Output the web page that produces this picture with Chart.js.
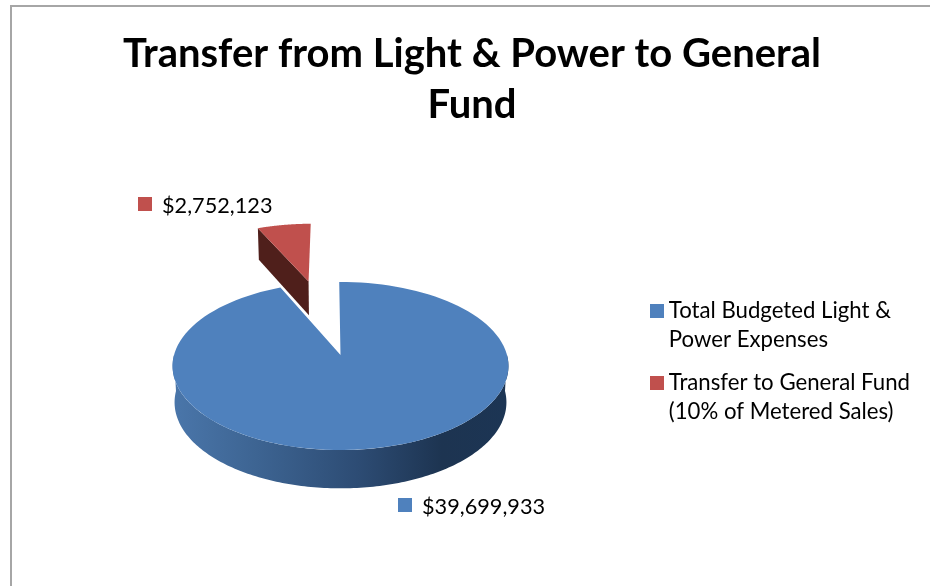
<!DOCTYPE html>
<html>
<head>
<meta charset="utf-8">
<title>Transfer from Light & Power to General Fund</title>
<script src="https://cdn.jsdelivr.net/npm/chart.js@4/dist/chart.umd.min.js"></script>
<style>
    html, body { margin: 0; padding: 0; background: #fff; overflow: hidden; }
    #wrap { position: relative; width: 930px; height: 586px; overflow: hidden; }
    #frame { position: absolute; left: 10px; top: 5px; width: 1000px; height: 800px; border: 2px solid #a6a6a6; }
    canvas { position: absolute; left: 0; top: 0; }
</style>
</head>
<body>
<div id="wrap">
    <div id="frame"></div>
    <canvas id="pie" width="930" height="586"></canvas>
</div>
<script>
const titleLines = ['Transfer from Light & Power to General', 'Fund'];
const categories = [['Total Budgeted Light &', 'Power Expenses'], ['Transfer to General Fund', '(10% of Metered Sales)']];
const seriesValues = [39699933, 2752123];
const sliceColors = ['#4f81bd', '#c0504d'];
const explode = [0, 103];

const FONT = 'Lato, Carlito, sans-serif';
const PIE_RADIUS = 100;
const KEY_SIZE = 14;

// camera for the tilted pie: unit disc to screen, with perspective
const cam = { cx: 340.5, cy: 355, a: 166.5, b: 82.6, p: 0.131 };

function project(u, v, z) {
    const w = 1 + cam.p * v;
    const drop = z ? 36 - 2.3 * v : 0;
    const k = z ? 0.988 : 1;
    return [cam.cx + k * cam.a * u / w, cam.cy - cam.b * v / w + drop];
}

function rimPoint(arc, angle, ox, oy, z) {
    return project(ox + Math.cos(angle), oy - Math.sin(angle), z);
}

function tracePoly(ctx, pts) {
    ctx.beginPath();
    pts.forEach((p, i) => i ? ctx.lineTo(p[0], p[1]) : ctx.moveTo(p[0], p[1]));
    ctx.closePath();
}

// legend swatches as little canvases, the built-in box leaves too wide a gap to the text
function legendKey(color) {
    const c = document.createElement('canvas');
    c.width = KEY_SIZE;
    c.height = KEY_SIZE;
    const g = c.getContext('2d');
    g.fillStyle = color;
    g.fillRect(0, 0, KEY_SIZE, KEY_SIZE);
    return c;
}
const legendKeys = sliceColors.map(legendKey);

const pie3d = {
    id: 'pie3d',
    beforeDatasetDraw(chart) {
        const ctx = chart.ctx;
        const arcs = chart.getDatasetMeta(0).data;
        ctx.save();

        // far slice first, the big one sits in front of it
        [1, 0].forEach(i => {
            const arc = arcs[i];
            const mid = (arc.startAngle + arc.endAngle) / 2;
            const off = arc.options.offset / arc.outerRadius;
            const ox = off * Math.cos(mid);
            const oy = -off * Math.sin(mid);
            const top = [project(ox, oy, false)];
            for (let n = 0; n <= 120; n++) {
                const t = arc.startAngle + (arc.endAngle - arc.startAngle) * n / 120;
                top.push(rimPoint(arc, t, ox, oy, false));
            }

            if (i === 1) {
                // only the cut face on the left shows
                const a = arc.startAngle;
                tracePoly(ctx, [project(ox, oy, false), rimPoint(arc, a, ox, oy, false),
                    rimPoint(arc, a, ox, oy, true), project(ox, oy, true)]);
                ctx.fillStyle = '#4f1f1b';
                ctx.fill();
            } else {
                // front wall of the drum, from right rim round to left rim
                const upper = [], lower = [];
                for (let n = 0; n <= 180; n++) {
                    const t = Math.PI * n / 180;
                    upper.push(rimPoint(arc, t, ox, oy, false));
                    lower.unshift(rimPoint(arc, t, ox, oy, true));
                }
                const g = ctx.createLinearGradient(173, 0, 509, 0);
                g.addColorStop(0, '#4a76aa');
                g.addColorStop(0.25, '#3d6492');
                g.addColorStop(0.55, '#2d4c74');
                g.addColorStop(0.8, '#1d3451');
                g.addColorStop(1, '#1c3554');
                tracePoly(ctx, upper.concat(lower));
                ctx.fillStyle = g;
                ctx.fill();
            }

            tracePoly(ctx, top);
            ctx.fillStyle = arc.options.backgroundColor;
            ctx.fill();
        });

        // value labels with their colour keys
        const spots = [[398, 498], [138, 197]];
        ctx.font = '21.7px ' + FONT;
        ctx.textBaseline = 'middle';
        ctx.textAlign = 'left';
        seriesValues.forEach((val, i) => {
            const s = spots[i];
            ctx.fillStyle = sliceColors[i];
            ctx.fillRect(s[0], s[1], KEY_SIZE, KEY_SIZE);
            ctx.fillStyle = '#000';
            ctx.fillText('$' + val.toLocaleString('en-US'), s[0] + 24, s[1] + 9);
        });

        ctx.restore();
        return false;
    }
};

new Chart(document.getElementById('pie'), {
    type: 'pie',
    data: {
        labels: categories,
        datasets: [{
            data: seriesValues,
            backgroundColor: sliceColors,
            borderWidth: 0,
            offset: explode,
            radius: PIE_RADIUS
        }]
    },
    plugins: [pie3d],
    options: {
        responsive: false,
        animation: false,
        rotation: -0.5,
        layout: { padding: { left: 24, right: 10, top: 28, bottom: 142 } },
        plugins: {
            tooltip: { enabled: false },
            title: {
                display: true,
                text: titleLines,
                color: '#000',
                font: { family: FONT, size: 40, weight: 'bold', lineHeight: 1.28 },
                padding: { top: 0, bottom: 10 }
            },
            legend: {
                position: 'right',
                align: 'end',
                labels: {
                    color: '#000',
                    usePointStyle: true,
                    pointStyleWidth: 2,
                    padding: 14,
                    font: { family: FONT, size: 22.2, lineHeight: 1.31 },
                    generateLabels(chart) {
                        const items = Chart.overrides.pie.plugins.legend.labels.generateLabels(chart);
                        items.forEach((item, i) => { item.pointStyle = legendKeys[i]; });
                        return items;
                    }
                }
            }
        }
    }
});
</script>
</body>
</html>
